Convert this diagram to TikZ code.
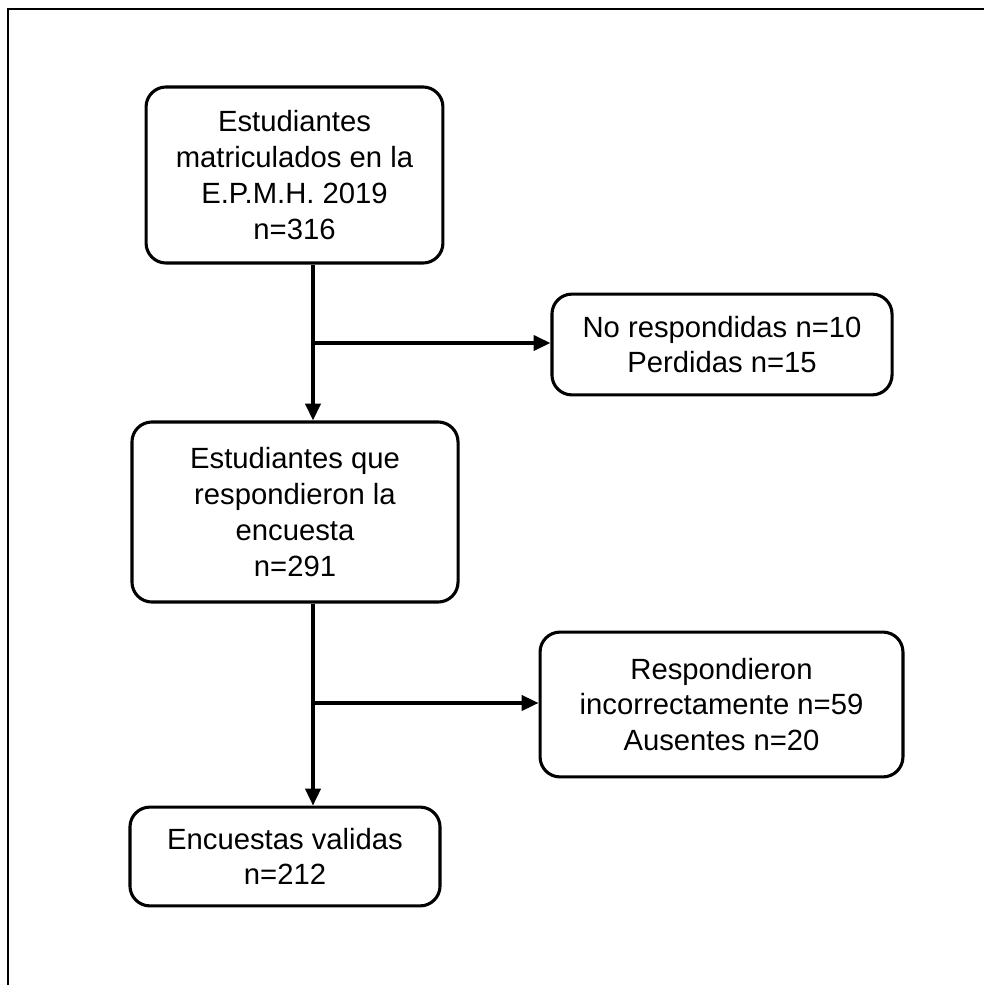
\documentclass[tikz,border=0pt]{standalone}
\usepackage{fontspec}
\setmainfont{Liberation Sans}
\usetikzlibrary{positioning,arrows.meta,calc}

\begin{document}
\begin{tikzpicture}[x=0.025cm, y=-0.025cm,
  >={Triangle[length=0.42cm, width=0.38cm]},
  every node/.style={font=\fontsize{20.8}{25.4}\selectfont, align=center},
  caja/.style={draw, line width=2.2pt, rounded corners=0.5cm, inner sep=0pt},
  flecha/.style={line width=2.2pt}]
  \useasboundingbox (0,0) rectangle (984,985);

  % marco
  \draw[line width=1.5pt] (8,985) -- (8,9) -- (984,9);

  \node[caja, minimum width=7.42cm, minimum height=4.4cm] (matric) at (294.5,175)
    {Estudiantes\\matriculados en la\\E.P.M.H. 2019\\n=316};

  \node[caja, minimum width=8.5cm, minimum height=2.52cm] (norespond) at (722,344.5)
    {No respondidas n=10\\Perdidas n=15};

  \node[caja, minimum width=8.15cm, minimum height=4.5cm] (respond) at (295,512)
    {Estudiantes que\\respondieron la\\encuesta\\n=291};

  \node[caja, minimum width=9.07cm, minimum height=3.62cm] (incorrect) at (721.5,704.5)
    {Respondieron\\incorrectamente n=59\\Ausentes n=20};

  \node[caja, minimum width=7.75cm, minimum height=2.47cm] (validas) at (285,856.5)
    {Encuestas validas\\n=212};

  % ramas
  \coordinate (rama1) at (313,343);
  \coordinate (rama2) at (313,703);

  \draw[flecha, ->] (matric.south -| rama1) -- (respond.north -| rama1);
  \draw[flecha, ->] (rama1) -- (rama1 -| norespond.west);
  \draw[flecha, ->] (respond.south -| rama2) -- (validas.north -| rama2);
  \draw[flecha, ->] (rama2) -- (rama2 -| incorrect.west);
\end{tikzpicture}
\end{document}
